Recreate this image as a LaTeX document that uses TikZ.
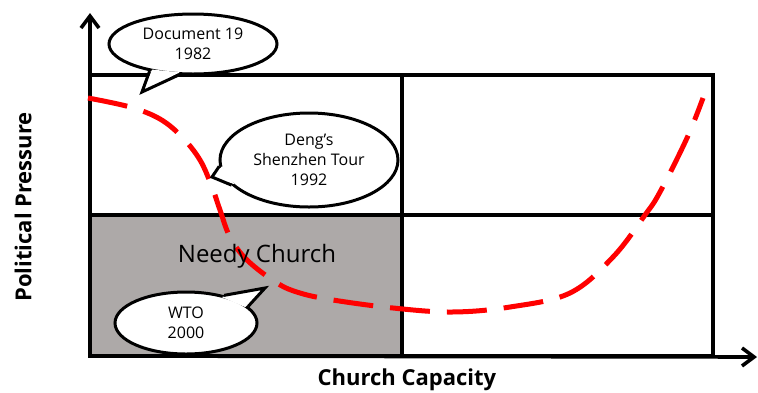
\documentclass[tikz,border=0pt]{standalone}
\usepackage{fontspec}
\setmainfont{Open Sans}
\usetikzlibrary{shapes.geometric,arrows.meta,calc}
\definecolor{needy}{RGB}{173,169,168}
\definecolor{curvered}{RGB}{255,0,0}
\begin{document}
\begin{tikzpicture}[x=1pt,y=-1pt,
  gridline/.style={line width=4.2pt},
  bubble/.style={ellipse, draw, line width=3pt, fill=white, inner sep=0pt, align=center, font=\fontsize{16}{20}\selectfont},
  tailline/.style={line width=3pt, line join=miter},
  axisline/.style={line width=3.6pt, -{Straight Barb[length=12pt,width=18pt]}},
  axislabel/.style={font=\bfseries\fontsize{22}{26}\selectfont, inner sep=0pt},
  trend/.style={line width=5pt, color=curvered, dash pattern=on 40pt off 17pt}
]
\useasboundingbox (0,0) rectangle (758,392);
% quadrants
\fill[needy] (90,215) rectangle (402,356);
\draw[gridline] (90,75) rectangle (713,356);
\draw[gridline] (402,75) -- (402,356);
\draw[gridline] (90,215) -- (713,215);
% axes
\coordinate (O) at (90,356);
\coordinate (ytip) at (90,13);
\coordinate (xtip) at (757,357);
\draw[axisline] (O) -- (ytip);
\draw[axisline] (O) -- (xtip);
% trend curve
\draw[trend] plot[smooth, tension=0.6] coordinates {(88,98) (130,107) (160,119) (182,137) (200,160) (212,187) (220,210) (230,237) (247,260) (277,283) (300,293) (333,300) (393,308) (452,312) (510,307) (570,293) (613,257) (645,215) (660,192) (687,138) (703,98)};
% label in needy quadrant
\node[font=\fontsize{24}{28}\selectfont, inner sep=0pt, anchor=base] (needy) at (257,262) {Needy Church};
% bubble 1
\node[bubble, minimum width=168pt, minimum height=60pt] (b1) at (193,44) {Document 19\\1982};
\coordinate (t1) at (142,92);
\fill[white] ($(b1.212)!3pt!(b1.center)$) -- (t1) -- ($(b1.245)!3pt!(b1.center)$) -- cycle;
\draw[tailline] (b1.212) -- (t1) -- (b1.245);
% bubble 2
\node[bubble, minimum width=178pt, minimum height=94pt] (b2) at (309,160) {Deng’s\\Shenzhen Tour\\1992};
\coordinate (t2) at (212,177);
\fill[white] ($(b2.184)!3pt!(b2.center)$) -- (t2) -- ($(b2.198)!3pt!(b2.center)$) -- cycle;
\draw[tailline] (b2.184) -- (t2) -- (b2.198);
% bubble 3
\node[bubble, minimum width=142pt, minimum height=62pt] (b3) at (186,323) {WTO\\2000};
\coordinate (t3) at (265,288);
\fill[white] ($(b3.36)!3pt!(b3.center)$) -- (t3) -- ($(b3.15)!3pt!(b3.center)$) -- cycle;
\draw[tailline] (b3.36) -- (t3) -- (b3.15);
% axis labels
\node[axislabel, rotate=90] (ylab) at (23,207) {Political Pressure};
\node[axislabel, anchor=base] (xlab) at (407,385) {Church Capacity};
\end{tikzpicture}
\end{document}
